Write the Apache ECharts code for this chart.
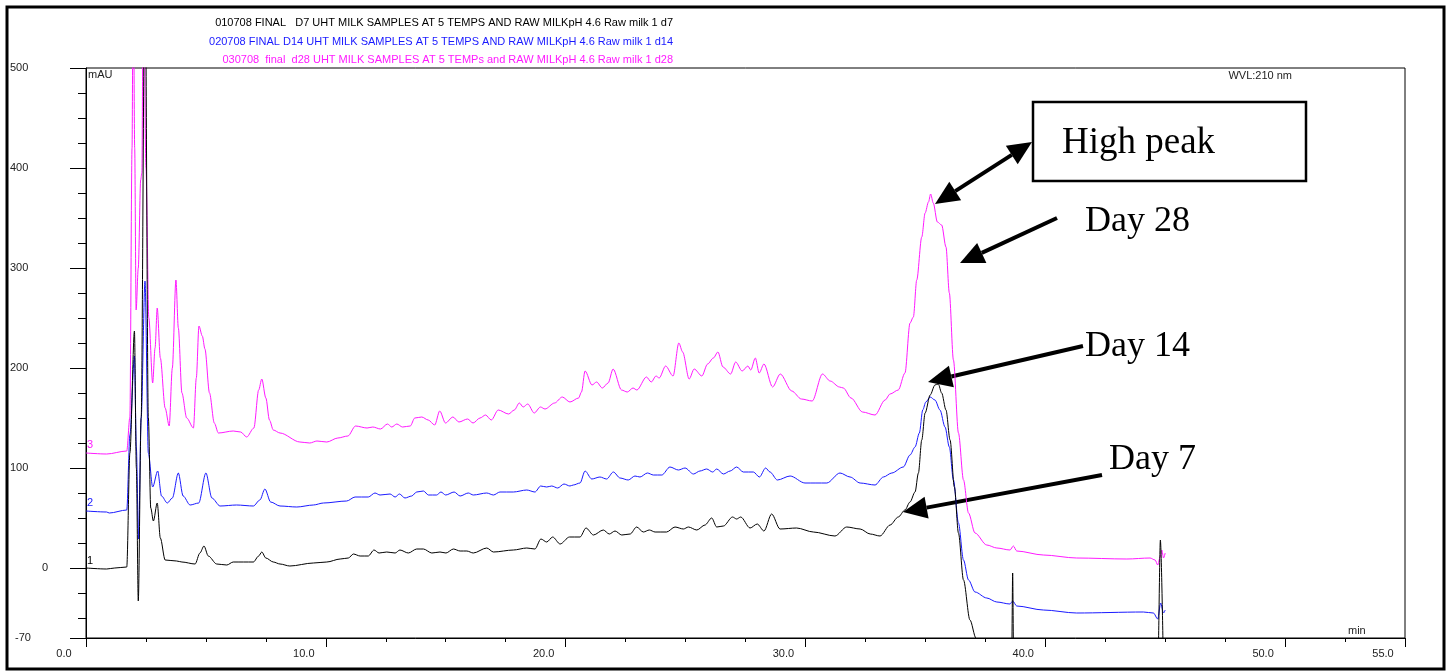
<!DOCTYPE html>
<html lang="en">

<head>
    <meta charset="UTF-8">
    <title>UHT milk chromatograms</title>
    <script src="https://cdn.jsdelivr.net/npm/echarts@6/dist/echarts.min.js"></script>
    <style>
        html, body { margin: 0; padding: 0; background: #fff; }
        #chart { width: 1454px; height: 671px; }
    </style>
</head>

<body>
    <div id="chart"></div>

    <script>
        // retention time (min), absorbance (mAU)
        var day7Data = [
            [0, 0], [0.86, -1], [1.2, 0], [1.7, 1], [1.83, 115], [2.02, 237], [2.1, 100], [2.18, -33],
            [2.3, 150], [2.46, 620], [2.6, 150], [2.7, 60], [2.81, 47], [2.97, 65], [3.1, 30], [3.3, 8],
            [3.78, 7], [4.0, 6], [4.55, 4], [4.75, 15], [4.92, 22], [5.1, 12], [5.45, 4], [5.87, 3],
            [6.14, 6], [6.98, 6], [7.2, 12], [7.33, 16], [7.5, 10], [7.81, 6], [8.09, 4], [8.5, 2],
            [9.48, 5], [10.04, 6], [10.6, 9], [10.94, 10], [11.15, 14], [11.43, 12], [11.77, 12],
            [12.01, 18], [12.22, 15], [12.54, 16], [12.89, 15], [13.09, 18], [13.44, 15], [13.79, 19],
            [14.07, 19], [14.42, 15], [14.76, 16], [15.01, 15], [15.32, 19], [15.6, 17], [15.88, 17],
            [16.15, 15], [16.71, 20], [16.99, 16], [17.82, 18], [18.38, 20], [18.72, 19], [18.97, 29],
            [19.21, 26], [19.46, 31], [19.77, 24], [20.16, 31], [20.6, 31], [20.85, 40], [21.16, 33],
            [21.57, 38], [21.82, 34], [22.06, 37], [22.34, 33], [22.69, 34], [22.96, 41], [23.24, 36],
            [23.49, 38], [23.73, 36], [24.21, 36], [24.56, 41], [24.91, 39], [25.12, 41], [25.47, 38],
            [25.81, 43], [26.09, 50], [26.3, 41], [26.58, 42], [26.96, 51], [27.13, 49], [27.3, 51],
            [27.69, 40], [27.99, 44], [28.27, 37], [28.59, 54], [28.94, 39], [29.63, 40], [30.33, 36],
            [31.23, 32], [31.72, 41], [32.28, 39], [32.7, 34], [33.11, 32], [33.53, 43], [33.87, 51],
            [34.15, 58], [34.36, 66], [34.57, 76], [34.71, 95], [34.85, 128], [34.99, 155], [35.2, 173],
            [35.4, 183], [35.54, 184], [35.68, 175], [35.86, 158], [36.03, 128], [36.21, 81], [36.38, 35],
            [36.59, -12], [36.86, -52], [37.11, -70], [37.3, -90], [38.6, -90], [38.64, -5], [38.68, -90],
            [44.7, -90], [44.8, 28], [44.92, -90]
        ];

        var day14Data = [
            [0, 57], [0.86, 56], [0.97, 55], [1.7, 58], [1.83, 133], [2.02, 212], [2.1, 120], [2.19, 29],
            [2.3, 150], [2.46, 287], [2.6, 115], [2.78, 81], [2.99, 97], [3.15, 72], [3.39, 65], [3.6, 70],
            [3.85, 95], [4.05, 72], [4.34, 63], [4.7, 65], [5.0, 95], [5.25, 70], [5.59, 62], [6.28, 63],
            [6.98, 62], [7.25, 68], [7.46, 79], [7.7, 66], [8.09, 62], [8.79, 61], [9.48, 63], [9.9, 65],
            [10.87, 67], [11.22, 71], [11.77, 71], [12.05, 75], [12.26, 73], [12.68, 74], [12.89, 71],
            [13.07, 74], [13.3, 70], [13.58, 72], [13.79, 76], [14.07, 77], [14.28, 73], [14.62, 73],
            [14.8, 76], [15.0, 73], [15.35, 76], [15.6, 72], [15.94, 75], [16.15, 73], [16.71, 75],
            [16.99, 73], [17.26, 76], [17.82, 76], [18.38, 78], [18.72, 76], [18.96, 82], [19.21, 81],
            [19.42, 82], [19.67, 80], [19.93, 84], [20.18, 82], [20.32, 83], [20.6, 85], [20.81, 97],
            [21.09, 89], [21.43, 91], [21.71, 89], [21.99, 96], [22.27, 90], [22.61, 88], [22.89, 92],
            [23.1, 91], [23.41, 95], [23.66, 93], [24.01, 93], [24.35, 101], [24.7, 98], [24.98, 100],
            [25.33, 94], [25.6, 97], [25.88, 99], [26.13, 96], [26.3, 99], [26.58, 94], [26.86, 97],
            [27.13, 101], [27.41, 96], [27.83, 96], [28.08, 91], [28.34, 100], [28.52, 96], [28.83, 88],
            [29.36, 92], [29.98, 85], [30.89, 85], [31.44, 95], [31.86, 91], [32.28, 85], [32.9, 83],
            [33.25, 91], [33.6, 95], [34.08, 101], [34.36, 113], [34.57, 121], [34.75, 135], [34.89, 158],
            [35.02, 166], [35.2, 171], [35.4, 168], [35.61, 158], [35.82, 141], [36.0, 121], [36.17, 88],
            [36.38, 45], [36.59, 8], [36.8, -12], [37.07, -24], [37.56, -30], [37.98, -34], [38.53, -36],
            [38.64, -33], [38.81, -38], [39.92, -42], [41.31, -45], [44.09, -44], [44.51, -45],
            [44.69, -51], [44.81, -35], [44.93, -45], [45.0, -42]
        ];

        var day28Data = [
            [0, 115], [0.86, 114], [1.7, 117], [1.83, 151], [1.92, 420], [1.97, 620], [2.03, 420],
            [2.09, 258], [2.18, 300], [2.28, 388], [2.33, 395], [2.39, 620], [2.5, 400], [2.62, 250],
            [2.78, 185], [2.88, 220], [2.97, 260], [3.1, 210], [3.3, 160], [3.47, 142], [3.6, 200],
            [3.75, 288], [3.85, 240], [4.0, 175], [4.2, 150], [4.48, 140], [4.6, 190], [4.71, 242],
            [4.85, 232], [4.96, 219], [5.15, 175], [5.35, 145], [5.52, 135], [6.14, 137], [6.45, 136],
            [6.7, 131], [7.0, 140], [7.2, 178], [7.33, 189], [7.5, 170], [7.65, 148], [7.81, 138],
            [8.09, 135], [8.92, 126], [9.33, 125], [9.63, 127], [10.04, 126], [10.5, 130], [10.92, 132],
            [11.24, 142], [11.72, 140], [11.96, 141], [12.28, 139], [12.57, 144], [12.75, 141],
            [12.96, 144], [13.2, 141], [13.52, 142], [13.71, 150], [14.0, 151], [14.27, 148], [14.54, 143],
            [14.75, 157], [14.99, 145], [15.3, 151], [15.55, 146], [15.91, 149], [16.14, 145], [16.43, 150],
            [16.66, 153], [16.9, 148], [17.19, 158], [17.62, 154], [17.86, 158], [18.07, 165], [18.23, 161],
            [18.42, 164], [18.69, 155], [18.95, 161], [19.14, 159], [19.54, 165], [19.86, 171], [20.18, 166],
            [20.54, 170], [20.66, 176], [20.81, 197], [21.1, 183], [21.29, 186], [21.53, 180], [21.77, 185],
            [21.98, 199], [22.33, 178], [22.57, 176], [22.81, 180], [22.97, 178], [23.37, 191], [23.57, 186],
            [23.77, 192], [23.9, 190], [24.17, 202], [24.48, 192], [24.72, 225], [24.88, 216], [25.15, 189],
            [25.36, 199], [25.68, 192], [25.92, 204], [26.16, 210], [26.35, 216], [26.56, 201], [26.88, 194],
            [27.09, 206], [27.36, 197], [27.6, 202], [27.72, 198], [27.91, 210], [28.07, 195], [28.27, 204],
            [28.63, 181], [28.95, 194], [29.43, 177], [29.83, 169], [30.28, 167], [30.71, 194], [31.03, 187],
            [31.42, 181], [31.58, 180], [31.9, 170], [32.38, 156], [32.9, 153], [33.32, 168], [33.53, 174],
            [33.87, 178], [34.15, 195], [34.36, 245], [34.5, 251], [34.64, 288], [34.85, 331], [34.99, 355],
            [35.13, 366], [35.22, 374], [35.33, 365], [35.5, 346], [35.68, 343], [35.86, 321], [36.0, 275],
            [36.17, 208], [36.38, 135], [36.59, 88], [36.8, 55], [37.07, 35], [37.56, 23], [37.98, 20],
            [38.53, 18], [38.67, 22], [38.81, 17], [39.92, 13], [41.31, 10], [43.4, 9], [44.37, 10],
            [44.58, 8], [44.69, 3], [44.79, 11], [44.86, 18], [44.93, 10], [45.0, 15]
        ];

        var titleLines = [
            '010708 FINAL   D7 UHT MILK SAMPLES AT 5 TEMPS AND RAW MILKpH 4.6 Raw milk 1 d7',
            '020708 FINAL D14 UHT MILK SAMPLES AT 5 TEMPS AND RAW MILKpH 4.6 Raw milk 1 d14',
            '030708  final  d28 UHT MILK SAMPLES AT 5 TEMPs and RAW MILKpH 4.6 Raw milk 1 d28'
        ];
        var traceColors = ['#000000', '#1a1aff', '#ff1aff'];

        var xMajorTicks = [0, 10, 20, 30, 40, 50, 55];
        var xMinorTicks = [2.5, 5, 7.5, 12.5, 15, 17.5, 22.5, 25, 27.5, 32.5, 35, 37.5, 42.5, 45, 47.5, 52.5];
        var yMajorTicks = [-70, 0, 100, 200, 300, 400, 500];
        var yMinorTicks = [-50, -25, 25, 50, 75, 125, 150, 175, 225, 250, 275, 325, 350, 375, 425, 450, 475];

        var chartDom = document.getElementById('chart');
        var myChart = echarts.init(chartDom);

        var sansFont = "'Liberation Sans', Arial, sans-serif";
        var serifFont = "'Liberation Serif', 'Times New Roman', serif";

        function arrow(x1, y1, x2, y2, both) {
            // line from (x1,y1) to (x2,y2), filled head at the second point
            var dx = x2 - x1, dy = y2 - y1;
            var len = Math.sqrt(dx * dx + dy * dy);
            var ux = dx / len, uy = dy / len;
            var head = 24, half = 11;
            function headAt(tx, ty, vx, vy) {
                var bx = tx - vx * head, by = ty - vy * head;
                return {
                    type: 'polygon',
                    shape: { points: [[tx, ty], [bx - vy * half, by + vx * half], [bx + vy * half, by - vx * half]] },
                    style: { fill: '#000' }
                };
            }
            var sx = both ? x1 + ux * head : x1, sy = both ? y1 + uy * head : y1;
            var items = [{
                type: 'line',
                shape: { x1: sx, y1: sy, x2: x2 - ux * head, y2: y2 - uy * head },
                style: { stroke: '#000', lineWidth: 4 }
            }, headAt(x2, y2, ux, uy)];
            if (both) items.push(headAt(x1, y1, -ux, -uy));
            return { type: 'group', z: 100, children: items };
        }

        function text(str, x, y, color, font, align) {
            return {
                type: 'text', z: 100,
                style: { text: str, x: x, y: y, fill: color, font: font, textAlign: align || 'left', textVerticalAlign: 'middle' }
            };
        }

        var graphics = [
            {
                type: 'rect', z: 100,
                shape: { x: 7, y: 7, width: 1437, height: 662 },
                style: { fill: null, stroke: '#000', lineWidth: 3 }
            },
            text(titleLines[0], 673, 23, traceColors[0], '11px ' + sansFont, 'right'),
            text(titleLines[1], 673, 42, '#1a1aff', '11px ' + sansFont, 'right'),
            text(titleLines[2], 673, 60, '#ff1aff', '11px ' + sansFont, 'right'),
            text('mAU', 88, 75, '#222', '11px ' + sansFont),
            text('WVL:210 nm', 1292, 76, '#222', '11px ' + sansFont, 'right'),
            text('min', 1348, 631, '#222', '11px ' + sansFont),
            text('1', 87, 561, traceColors[0], '11px ' + sansFont),
            text('2', 87, 503, '#1a1aff', '11px ' + sansFont),
            text('3', 87, 445, '#ff1aff', '11px ' + sansFont),
            {
                type: 'rect', z: 100,
                shape: { x: 1033, y: 102, width: 273, height: 79 },
                style: { fill: '#fff', stroke: '#000', lineWidth: 2.5 }
            },
            text('High peak', 1062, 143, '#000', '37px ' + serifFont),
            text('Day 28', 1085, 222, '#000', '36px ' + serifFont),
            text('Day 14', 1085, 347, '#000', '36px ' + serifFont),
            text('Day 7', 1109, 460, '#000', '36px ' + serifFont),
            arrow(1032, 142, 935, 204, true),
            arrow(1057, 218, 960, 263, false),
            arrow(1083, 346, 928, 382, false),
            arrow(1102, 475, 903, 512, false)
        ];

        var axisLabelStyle = { color: '#222', fontSize: 11, fontFamily: sansFont };

        var option = {
            animation: false,
            backgroundColor: '#fff',
            grid: {
                left: 86, top: 68, right: 49, bottom: 33,
                show: true, borderColor: '#000', borderWidth: 1, backgroundColor: 'transparent'
            },
            xAxis: [
                {
                    type: 'value', min: 0, max: 55, position: 'bottom',
                    axisLine: { show: true, onZero: false, lineStyle: { color: '#000', width: 1 } },
                    axisTick: { show: true, length: 9, customValues: xMajorTicks, lineStyle: { color: '#000' } },
                    axisLabel: Object.assign({
                        customValues: xMajorTicks,
                        margin: 10,
                        padding: [0, 44, 0, 0],
                        formatter: function (v) { return v.toFixed(1); }
                    }, axisLabelStyle),
                    splitLine: { show: false }
                },
                {
                    type: 'value', min: 0, max: 55, position: 'bottom',
                    axisLine: { show: false, onZero: false },
                    axisTick: { show: true, length: 4, customValues: xMinorTicks, lineStyle: { color: '#000' } },
                    axisLabel: { show: false },
                    splitLine: { show: false }
                }
            ],
            yAxis: [
                {
                    type: 'value', min: -70, max: 500, position: 'left',
                    axisLine: { show: true, onZero: false, lineStyle: { color: '#000', width: 1 } },
                    axisTick: { show: true, length: 16, customValues: yMajorTicks, lineStyle: { color: '#000' } },
                    axisLabel: Object.assign({
                        customValues: yMajorTicks,
                        align: 'left',
                        margin: 76,
                        formatter: function (v) {
                            if (v === 0) return '{z|0}';
                            if (v === -70) return '{n|-70}';
                            return '{d|' + v + '}';
                        },
                        rich: {
                            z: { padding: [0, 0, 0, 32], color: '#222', fontSize: 11, fontFamily: sansFont },
                            n: { padding: [0, 0, 0, 5], color: '#222', fontSize: 11, fontFamily: sansFont },
                            d: { color: '#222', fontSize: 11, fontFamily: sansFont }
                        }
                    }, axisLabelStyle),
                    splitLine: { show: false }
                },
                {
                    type: 'value', min: -70, max: 500, position: 'left',
                    axisLine: { show: false, onZero: false },
                    axisTick: { show: true, length: 8, customValues: yMinorTicks, lineStyle: { color: '#000' } },
                    axisLabel: { show: false },
                    splitLine: { show: false }
                }
            ],
            series: [
                {
                    name: 'Day 7', type: 'line', data: day7Data, clip: true,
                    smooth: 0.3, smoothMonotone: 'x',
                    symbol: 'none', lineStyle: { color: traceColors[0], width: 1 }, z: 4
                },
                {
                    name: 'Day 14', type: 'line', data: day14Data, clip: true,
                    smooth: 0.3, smoothMonotone: 'x',
                    symbol: 'none', lineStyle: { color: traceColors[1], width: 1 }, z: 3
                },
                {
                    name: 'Day 28', type: 'line', data: day28Data, clip: true,
                    smooth: 0.3, smoothMonotone: 'x',
                    symbol: 'none', lineStyle: { color: traceColors[2], width: 1 }, z: 2
                }
            ],
            graphic: graphics
        };

        option && myChart.setOption(option);
    </script>

</body>

</html>
